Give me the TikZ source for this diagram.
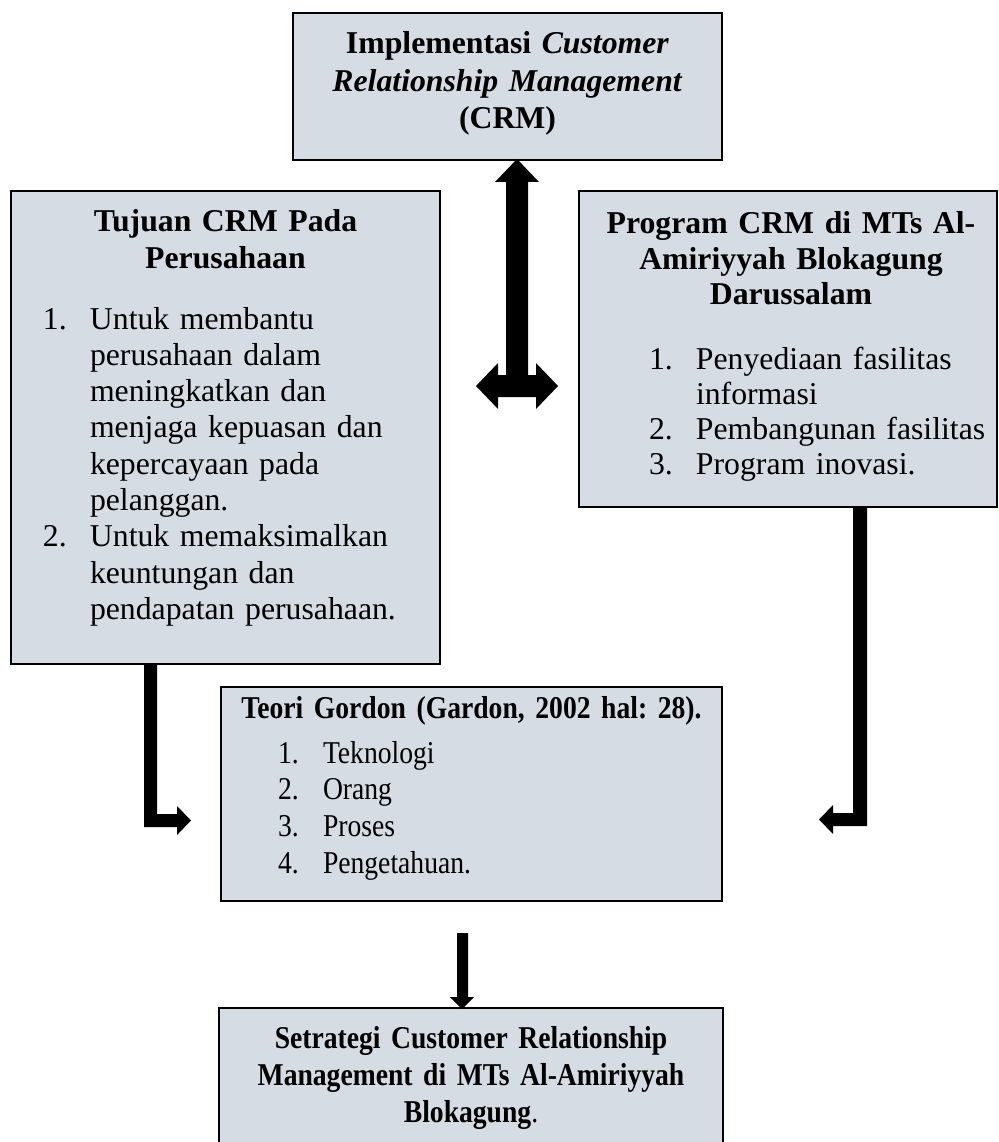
\documentclass[tikz,border=0pt]{standalone}
\usepackage{fontspec}
\setmainfont{Liberation Serif}
\newfontfamily\condfont[FakeStretch=0.87]{Liberation Serif}
\usetikzlibrary{calc}
\definecolor{boxfill}{HTML}{D6DCE4}
\frenchspacing
\begin{document}
\begin{tikzpicture}[x=1pt,y=-1pt,
  box/.style={draw=black,line width=2pt,fill=boxfill,inner sep=0pt,anchor=north west,
    font=\fontsize{31.75pt}{36.3pt}\selectfont\frenchspacing},
  blockarrow/.style={fill=black}]
\useasboundingbox (0,0) rectangle (998,1142);

\node[box,text width=429pt,text height=41pt,text depth=106pt] (top) at (292,12)
 {\centering\bfseries Implementasi \textit{Customer}\\[1pt]
  \textit{Relationship Management}\\[1pt]
  (CRM)\par};

\node[box,text width=429pt,text height=40pt,text depth=433pt] (tuj) at (10,190)
 {{\centering\bfseries Tujuan CRM Pada\\[0.7pt] Perusahaan\par}
  \vspace{24.7pt}\raggedright
  \hspace*{32pt}\makebox[47pt][l]{1.}Untuk membantu\\
  \hspace*{79pt}perusahaan dalam\\
  \hspace*{79pt}meningkatkan dan\\
  \hspace*{79pt}menjaga kepuasan dan\\
  \hspace*{79pt}kepercayaan pada\\
  \hspace*{79pt}pelanggan.\\
  \hspace*{32pt}\makebox[47pt][l]{2.}Untuk memaksimalkan\\
  \hspace*{79pt}keuntungan dan\\
  \hspace*{79pt}pendapatan perusahaan.\par};

\node[box,text width=418pt,text height=42pt,text depth=274pt] (prog) at (578,190)
 {{\centering\bfseries\hspace*{6pt}Program CRM di MTs Al-\\[-0.3pt]\hspace*{6pt}Amiriyyah Blokagung\\[-1.3pt]\hspace*{6pt}Darussalam\par}
  \vspace{28.7pt}\raggedright
  \hspace*{70pt}\makebox[47pt][l]{1.}Penyediaan fasilitas\\[-1.3pt]
  \hspace*{117pt}informasi\\[-1.3pt]
  \hspace*{70pt}\makebox[47pt][l]{2.}Pembangunan fasilitas\\[-1.3pt]
  \hspace*{70pt}\makebox[47pt][l]{3.}Program inovasi.\par};

\node[box,text width=501pt,text height=31pt,text depth=183pt] (teori) at (220,686)
 {\condfont{\centering\bfseries Teori Gordon (Gardon, 2002 hal: 28).\par}
  \vspace{8.7pt}\raggedright
  \hspace*{57pt}\makebox[45pt][l]{1.}Teknologi\\[0.4pt]
  \hspace*{57pt}\makebox[45pt][l]{2.}Orang\\[0.4pt]
  \hspace*{57pt}\makebox[45pt][l]{3.}Proses\\[0.4pt]
  \hspace*{57pt}\makebox[45pt][l]{4.}Pengetahuan.\par};

\node[box,text width=504pt,text height=40pt,text depth=110pt] (strat) at (218,1007)
 {\condfont\centering\textbf{Setrategi Customer Relationship}\\[1.2pt]
  \textbf{Management di MTs Al-Amiriyyah}\\[0.7pt]
  \textbf{Blokagung}.\par};

% double block arrow from the top box
\coordinate (dA) at ($(top.south)+(9.5,-2)$);
\fill[blockarrow] (dA) -- ++(22,23) -- ++(-11,0) -- ++(0,193) -- ++(8,0) -- ++(0,-12)
  -- ++(22,23) -- ++(-22,23) -- ++(0,-12) -- ++(-38,0) -- ++(0,12) -- ++(-22,-23)
  -- ++(22,-23) -- ++(0,12) -- ++(8,0) -- ++(0,-193) -- ++(-11,0) -- cycle;

% elbow arrow from left box
\coordinate (lA) at ($(tuj.south west)+(134,0)$);
\fill[blockarrow] (lA) -- ++(13,0) -- ++(0,149) -- ++(20,0) -- ++(0,-8) -- ++(14,14.5)
  -- ++(-14,14.5) -- ++(0,-8) -- ++(-33,0) -- cycle;

% elbow arrow from right box
\coordinate (rA) at ($(prog.south west)+(275,0)$);
\fill[blockarrow] (rA) -- ++(14,0) -- ++(0,318) -- ++(-34,0) -- ++(0,8) -- ++(-14,-14.5)
  -- ++(14,-14.5) -- ++(0,8) -- ++(20,0) -- cycle;

% arrow into the bottom box
\coordinate (bA) at ($(strat.north)+(-9,2)$);
\fill[blockarrow] (bA) -- ++(12,-12) -- ++(-6,0) -- ++(0,-64) -- ++(-11,0) -- ++(0,64)
  -- ++(-7,0) -- cycle;
\end{tikzpicture}
\end{document}
